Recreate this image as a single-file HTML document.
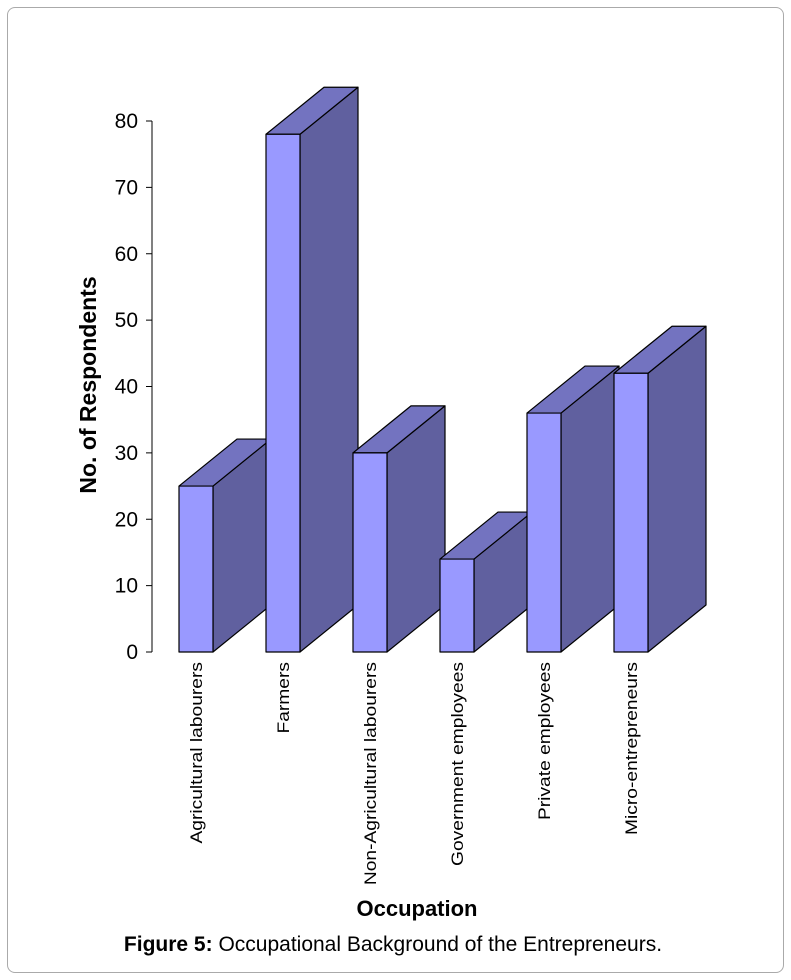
<!DOCTYPE html>
<html><head><meta charset="utf-8"><style>
body{margin:0;background:#fff;font-family:"Liberation Sans",sans-serif;}
#frame{position:absolute;left:7px;top:7px;width:775px;height:964px;border:1px solid #aaa;border-radius:8px;}
</style></head><body>
<div id="frame"></div>
<svg id="chart" width="791" height="980" style="position:absolute;left:0;top:0"></svg>
<script>
const categories=["Agricultural labourers","Farmers","Non-Agricultural labourers","Government employees","Private employees","Micro-entrepreneurs"];
const values=[25,78,30,14,36,42];
const ticks=[0,10,20,30,40,50,60,70,80];
const NS="http://www.w3.org/2000/svg";
const svg=document.getElementById("chart");
const y0=652, pxPerUnit=(652-121)/80;
function yScale(v){return y0-v*pxPerUnit;}
function xScale(i){return 179+i*87;}
const bw=34, dx=58, dy=-47;
function mk(tag,attrs,parent){const e=document.createElementNS(NS,tag);for(const k in attrs)e.setAttribute(k,attrs[k]);(parent||svg).appendChild(e);return e;}
const ax=mk("line",{x1:152,y1:121,x2:152,y2:652,stroke:"#000","stroke-width":1});


ticks.forEach(t=>{
  const y=yScale(t);
  const tl=mk("line",{x1:146,y1:y,x2:152,y2:y,stroke:"#000"});
  
  
  const tx=mk("text",{x:138,y:y+7,"text-anchor":"end","font-size":"21","font-family":"Liberation Sans, sans-serif"});
  tx.textContent=t;
  
  
});
values.forEach((v,i)=>{
  const x=xScale(i), yt=yScale(v);
  const g=mk("g",{stroke:"#000","stroke-width":1.2,"stroke-linejoin":"round"});
  
  
  mk("polygon",{points:`${x+bw},${yt} ${x+bw+dx},${yt+dy} ${x+bw+dx},${y0+dy} ${x+bw},${y0}`,fill:"#60609f"},g);
  mk("polygon",{points:`${x},${yt} ${x+dx},${yt+dy} ${x+bw+dx},${yt+dy} ${x+bw},${yt}`,fill:"#7373c0"},g);
  mk("rect",{x:x,y:yt,width:bw,height:y0-yt,fill:"#9999ff"},g);
  const lx=x+bw/2+6, ly=662;
  const t=mk("text",{x:lx,y:ly,transform:`rotate(-90 ${lx} ${ly})`,"text-anchor":"end","font-size":"17","font-family":"Liberation Sans, sans-serif"});
  t.textContent=categories[i];
  t.setAttribute('textLength',t.getComputedTextLength()*1.13);
  t.setAttribute('lengthAdjust','spacingAndGlyphs');
  
  
});
const yt=mk("text",{x:96,y:385,transform:"rotate(-90 96 385)","text-anchor":"middle","font-size":"23","font-weight":"bold","font-family":"Liberation Sans, sans-serif"});
yt.textContent="No. of Respondents";


const xt=mk("text",{x:417,y:916,"text-anchor":"middle","font-size":"22","font-weight":"bold","font-family":"Liberation Sans, sans-serif"});
xt.textContent="Occupation";


const cap=mk("text",{x:393,y:951,"text-anchor":"middle","font-size":"21","font-family":"Liberation Sans, sans-serif"});
cap.innerHTML='<tspan font-weight="bold">Figure 5:</tspan> Occupational Background of the Entrepreneurs.';


</script>
</body></html>
